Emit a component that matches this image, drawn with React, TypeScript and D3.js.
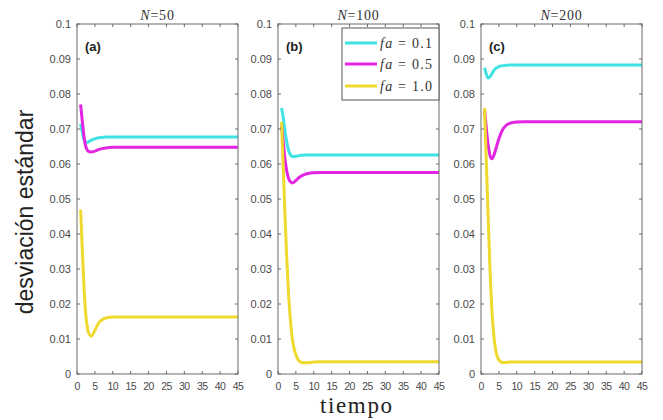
import React from "react";
import * as d3 from "d3";

// ---- data ----
const times = [1, 1.5, 2, 2.5, 3, 3.5, 4, 5, 6, 7, 8, 10, 12, 15, 20, 30, 45];

const panelNs = ["50", "100", "200"];
const panelLabels = ["(a)", "(b)", "(c)"];
const seriesNames = ["fa = 0.1", "fa = 0.5", "fa = 1.0"];
const faValues = ["0.1", "0.5", "1.0"];

const n50_fa01 = [0.0715, 0.0690, 0.0668, 0.0662, 0.0662, 0.0665, 0.0668, 0.0672, 0.0675, 0.0676, 0.0677, 0.0677, 0.0677, 0.0677, 0.0677, 0.0677, 0.0677];
const n50_fa05 = [0.0770, 0.0720, 0.0675, 0.0648, 0.0638, 0.0635, 0.0634, 0.0637, 0.0641, 0.0644, 0.0646, 0.0648, 0.0648, 0.0648, 0.0648, 0.0648, 0.0648];
const n50_fa10 = [0.0470, 0.0350, 0.0240, 0.0165, 0.0127, 0.0112, 0.0108, 0.0125, 0.0145, 0.0155, 0.0160, 0.0163, 0.0163, 0.0163, 0.0163, 0.0163, 0.0163];

const n100_fa01 = [0.0760, 0.0730, 0.0690, 0.0660, 0.0637, 0.0626, 0.0621, 0.0622, 0.0624, 0.0625, 0.0626, 0.0626, 0.0626, 0.0626, 0.0626, 0.0626, 0.0626];
const n100_fa05 = [0.0710, 0.0660, 0.0610, 0.0577, 0.0557, 0.0549, 0.0546, 0.0553, 0.0562, 0.0568, 0.0572, 0.0575, 0.0576, 0.0576, 0.0576, 0.0576, 0.0576];
const n100_fa10 = [0.0720, 0.0580, 0.0440, 0.0320, 0.0220, 0.0150, 0.0100, 0.0055, 0.0036, 0.0032, 0.0032, 0.0034, 0.0035, 0.0035, 0.0035, 0.0035, 0.0035];

const n200_fa01 = [0.0875, 0.0856, 0.0846, 0.0849, 0.0857, 0.0866, 0.0872, 0.0878, 0.0881, 0.0882, 0.0883, 0.0883, 0.0883, 0.0883, 0.0883, 0.0883, 0.0883];
const n200_fa05 = [0.0755, 0.0700, 0.0655, 0.0625, 0.0615, 0.0622, 0.0638, 0.0672, 0.0697, 0.0710, 0.0716, 0.0720, 0.0721, 0.0721, 0.0721, 0.0721, 0.0721];
const n200_fa10 = [0.0760, 0.0600, 0.0450, 0.0300, 0.0190, 0.0120, 0.0075, 0.0040, 0.0033, 0.0033, 0.0034, 0.0034, 0.0034, 0.0034, 0.0034, 0.0034, 0.0034];

const panelSeries = [
  [n50_fa01, n50_fa05, n50_fa10],
  [n100_fa01, n100_fa05, n100_fa10],
  [n200_fa01, n200_fa05, n200_fa10],
];

const xTicks = [0, 5, 10, 15, 20, 25, 30, 35, 40, 45];
const yTicks = [0, 0.01, 0.02, 0.03, 0.04, 0.05, 0.06, 0.07, 0.08, 0.09, 0.1];
const yTickLabels = ["0", "0.01", "0.02", "0.03", "0.04", "0.05", "0.06", "0.07", "0.08", "0.09", "0.1"];

// ---- style ----
const colors = ["#3fe3e3", "#e325e3", "#efd92e"];
const panelLefts = [77, 278, 481];
const panelW = 161;
const top = 24;
const bottom = 374;
const axisColor = "#6b6b6b";
const tickText = "#4a4a4a";

function Panel({ idx }: { idx: number }) {
  const left = panelLefts[idx];
  const x = d3.scaleLinear().domain([0, 45]).range([left, left + panelW]);
  const y = d3.scaleLinear().domain([0, 0.1]).range([bottom, top]);
  const line = d3
    .line<number>()
    .x((_, i) => x(times[i]))
    .y((d) => y(d))
    .curve(d3.curveMonotoneX);
  const tl = 3;
  return (
    <g>
      <rect x={left} y={top} width={panelW} height={bottom - top} fill="#fff" />
      {panelSeries[idx].map((s, k) => (
        <path key={k} d={line(s) || ""} fill="none" stroke={colors[k]} strokeWidth={3} strokeLinejoin="round" />
      ))}
      {/* box */}
      <rect x={left} y={top} width={panelW} height={bottom - top} fill="none" stroke={axisColor} strokeWidth={1} />
      {/* y ticks */}
      {yTicks.map((t, i) => (
        <g key={"y" + i}>
          <line x1={left} x2={left + tl} y1={y(t)} y2={y(t)} stroke={axisColor} />
          <line x1={left + panelW} x2={left + panelW - tl} y1={y(t)} y2={y(t)} stroke={axisColor} />
          <text x={left - 6} y={y(t)} dy="0.35em" textAnchor="end" fontSize={11} fill={tickText} fontFamily="Liberation Sans, Arial, sans-serif">
            {yTickLabels[i]}
          </text>
        </g>
      ))}
      {/* x ticks */}
      {xTicks.map((t, i) => (
        <g key={"x" + i}>
          <line x1={x(t)} x2={x(t)} y1={bottom} y2={bottom - tl} stroke={axisColor} />
          <line x1={x(t)} x2={x(t)} y1={top} y2={top + tl} stroke={axisColor} />
          <text x={x(t)} y={390} textAnchor="middle" fontSize={10.5} letterSpacing={-0.6} fill={tickText} fontFamily="Liberation Sans, Arial, sans-serif">
            {String(t)}
          </text>
        </g>
      ))}
      {/* title */}
      <text x={left + panelW / 2} y={20} textAnchor="middle" fontSize={14} letterSpacing={0.8} fill="#333" fontFamily="Liberation Serif, serif">
        <tspan fontStyle="italic">N</tspan>
        {"=" + panelNs[idx]}
      </text>
      {/* panel label */}
      <text x={left + 8} y={51} fontSize={13} fontWeight="bold" fill="#222" fontFamily="Liberation Sans, Arial, sans-serif">
        {panelLabels[idx]}
      </text>
    </g>
  );
}

function Legend() {
  const lx = 342;
  const ly = 28;
  const w = 97;
  const h = 72;
  const rows = [43, 64, 86];
  return (
    <g>
      <rect x={lx} y={ly} width={w} height={h} fill="#fff" stroke="#555" strokeWidth={1} />
      {seriesNames.map((nm, k) => (
        <g key={nm}>
          <line x1={345} x2={377} y1={rows[k]} y2={rows[k]} stroke={colors[k]} strokeWidth={3} />
          <text x={380} y={rows[k]} dy="0.35em" fontSize={14} fill="#333" fontFamily="Liberation Serif, serif" textLength={52} lengthAdjust="spacing">
            <tspan fontStyle="italic">fa</tspan>
            {" = " + faValues[k]}
          </text>
        </g>
      ))}
    </g>
  );
}

export default function App() {
  return (
    <div style={{ position: "absolute", left: 0, top: 0 }}>
      <svg width={663} height={420} style={{ display: "block", background: "#fff" }}>
        <rect width={663} height={420} fill="#fff" />
        {[0, 1, 2].map((i) => (
          <Panel key={i} idx={i} />
        ))}
        <Legend />
        <text
          transform="translate(33,212) rotate(-90)"
          textAnchor="middle"
          fontSize={23}
          fill="#222"
          fontFamily="Liberation Sans, Arial, sans-serif"
        >
          desviación estándar
        </text>
        <text x={356} y={413} textAnchor="middle" fontSize={23} textLength={72} lengthAdjust="spacing" fill="#222" fontFamily="Liberation Serif, serif">
          tiempo
        </text>
      </svg>
    </div>
  );
}
